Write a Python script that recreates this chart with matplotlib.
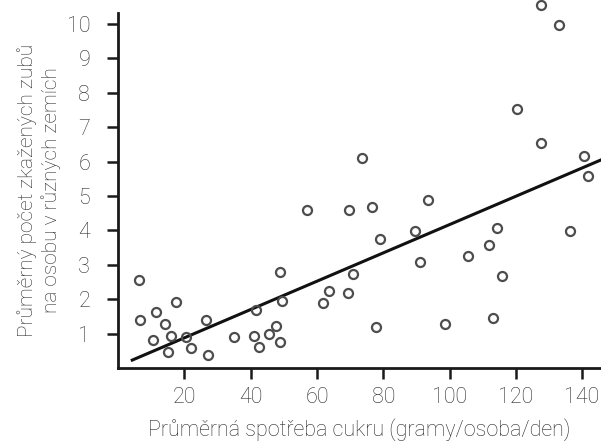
import matplotlib.pyplot as plt

plt.rcParams['font.family'] = ['Roboto', 'DejaVu Sans']
plt.rcParams['font.weight'] = 'light'
plt.rcParams['axes.labelweight'] = 'light'

sugar = [6.3, 6.5, 10.7, 11.6, 14.1, 17.4, 16.1, 15.2, 20.5, 22.1, 26.5, 27.1,
         35.1, 40.9, 41.6, 42.5, 45.4, 47.7, 48.9, 49.4, 48.9, 57.0, 69.6, 61.7,
         63.8, 69.5, 70.8, 73.7, 76.6, 77.7, 79.0, 89.5, 91.2, 93.4, 98.6, 105.6,
         112.0, 113.1, 114.2, 115.9, 120.5, 127.6, 127.7, 133.1, 136.2, 140.5, 141.8]
teeth = [2.56, 1.39, 0.80, 1.62, 1.28, 1.92, 0.93, 0.47, 0.89, 0.59, 1.40, 0.39,
         0.91, 0.93, 1.68, 0.62, 1.00, 1.22, 0.77, 1.96, 2.79, 4.60, 4.60, 1.90,
         2.23, 2.17, 2.74, 6.12, 4.67, 1.20, 3.76, 3.99, 3.09, 4.87, 1.27, 3.26,
         3.59, 1.45, 4.06, 2.67, 7.54, 10.55, 6.53, 9.96, 3.97, 6.17, 5.59]

# regression line (start / end)
fit_x = [4.3, 145.7]
fit_y = [0.23, 6.05]

x_ticks = [20, 40, 60, 80, 100, 120, 140]
y_ticks = [1, 2, 3, 4, 5, 6, 7, 8, 9, 10]

fig = plt.figure(figsize=(6.01, 4.44), dpi=100)
ax = fig.add_axes([118 / 601, 1 - 368 / 444, 1 - 118 / 601, (368 - 12.7) / 444])

ax.plot(sugar, teeth, 'o', markersize=6.5, markerfacecolor='none',
        markeredgecolor='#4d4d4d', markeredgewidth=1.6, clip_on=False, zorder=3)
ax.plot(fit_x, fit_y, color='#111111', linewidth=2.2, clip_on=False)

ax.set_xlim(0, 145.7)
ax.set_ylim(0, 10.33)
ax.set_xticks(x_ticks)
ax.set_yticks(y_ticks)

for side in ['top', 'right']:
    ax.spines[side].set_visible(False)
for side in ['left', 'bottom']:
    ax.spines[side].set_linewidth(2)
    ax.spines[side].set_color('#1a1a1a')

ax.tick_params(axis='both', direction='out', length=8, width=1.8, color='#1a1a1a',
               labelsize=15.5, labelcolor='#2b2b2b')
ax.tick_params(axis='y', pad=12)
ax.tick_params(axis='x', pad=6)

ax.set_xlabel('Průměrná spotřeba cukru (gramy/osoba/den)', fontsize=15.5,
              color='#2b2b2b', labelpad=7)
ax.set_ylabel('Průměrný počet zkažených zubů\nna osobu v různých zemích',
              fontsize=15, color='#2b2b2b', labelpad=4, linespacing=1.3)

plt.savefig('out.png', dpi=100)
